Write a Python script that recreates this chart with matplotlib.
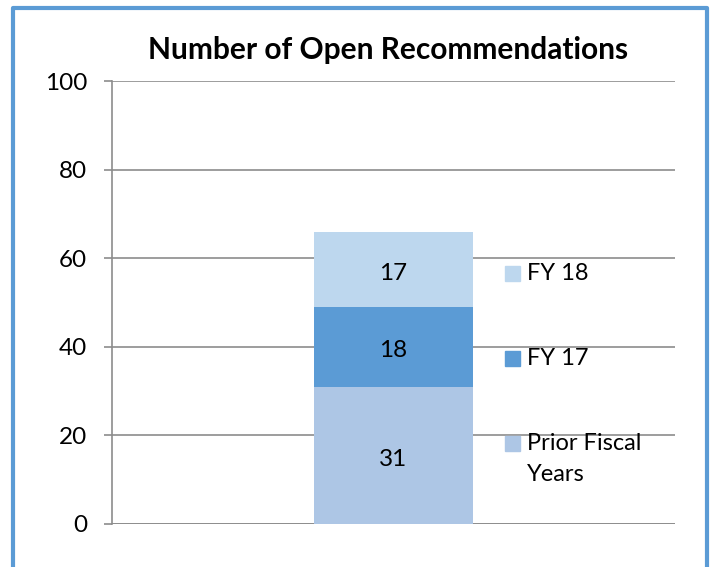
import matplotlib
matplotlib.use("Agg")
import matplotlib.pyplot as plt
from matplotlib.patches import Rectangle
from matplotlib.lines import Line2D

# data
category = [""]
series_names = ["Prior Fiscal Years", "FY 17", "FY 18"]
legend_labels = ["Prior Fiscal\nYears", "FY 17", "FY 18"]
series_values = [[31], [18], [17]]
colors = ["#adc6e5", "#5b9bd5", "#bdd7ee"]
y_ticks = [0, 20, 40, 60, 80, 100]

W, H = 713, 567
plt.rcParams["font.family"] = ["Lato", "DejaVu Sans"]

fig = plt.figure(figsize=(W / 100, H / 100), dpi=100)
ax = fig.add_axes([112 / W, 1 - 524 / H, (675 - 112) / W, (524 - 81) / H])

bottom = [0]
for name, vals, col in zip(series_names, series_values, colors):
    ax.bar(category, vals, bottom=bottom, width=0.283, color=col, zorder=3)
    for i, (b, v) in enumerate(zip(bottom, vals)):
        ax.annotate(str(v), (i, b + v / 2), xytext=(0, -3), textcoords="offset points",
                    ha="center", va="center", fontsize=17.5, color="black", zorder=4)
    bottom = [b + v for b, v in zip(bottom, vals)]

ax.set_xlim(-0.5, 0.5)
ax.set_ylim(0, 100)
ax.set_yticks(y_ticks)
ax.grid(axis="y", color="#8c8c8c", linewidth=1.2, zorder=0)
ax.tick_params(axis="y", length=6, width=1.2, color="#8c8c8c", labelsize=17.5, pad=12,
               labelcolor="black")
ax.tick_params(axis="x", length=0, labelbottom=False)
for s in ["top", "right", "bottom"]:
    ax.spines[s].set_visible(False)
ax.spines["left"].set_color("#8c8c8c")
ax.spines["left"].set_linewidth(1.2)

# zero line extends left like a tick
ax.add_line(Line2D([104 / W, 675 / W], [1 - 524 / H] * 2, transform=fig.transFigure,
                   color="#8c8c8c", linewidth=1.2))

fig.text(388 / W, 1 - 50 / H, "Number of Open Recommendations", ha="center", va="center",
         fontsize=21.5, fontweight="bold", color="black")

# legend, top entry is last series
leg_y = [444, 359, 274]
for lab, col, yy in zip(legend_labels, colors, leg_y):
    fig.add_artist(Rectangle((505 / W, 1 - (yy + 7) / H), 15 / W, 15 / H,
                             transform=fig.transFigure, color=col))
    fig.text(527 / W, 1 - (yy - 11) / H, lab, ha="left", va="top",
             fontsize=17, color="black", linespacing=1.6)

# blue frame (left, top, right)
frame = "#5b9bd5"
fig.add_artist(Line2D([13 / W, 13 / W, 707 / W, 707 / W], [0, 1 - 8 / H, 1 - 8 / H, 0],
                      transform=fig.transFigure, color=frame, linewidth=3))

fig.savefig("out.png", dpi=100, facecolor="white")
